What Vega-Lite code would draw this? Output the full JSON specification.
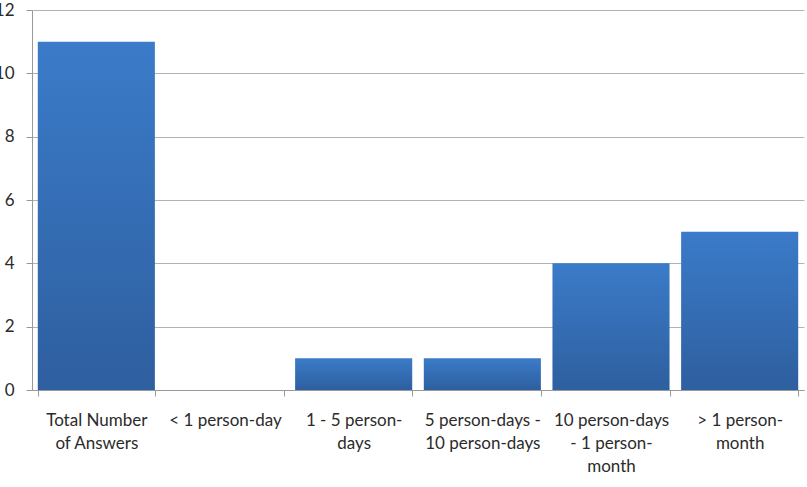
{
  "$schema": "https://vega.github.io/schema/vega-lite/v6.json",
  "width": 772,
  "height": 380,
  "autosize": {"type": "none"},
  "padding": {"left": 32, "top": 10, "right": 3, "bottom": 97},
  "background": "white",
  "config": {"view": {"stroke": null}},
  "data": {
    "values": [
      {"category": "Total Number|of Answers", "count": 11},
      {"category": "< 1 person-day", "count": 0},
      {"category": "1 - 5 person-|days", "count": 1},
      {"category": "5 person-days -|10 person-days", "count": 1},
      {"category": "10 person-days|- 1 person-|month", "count": 4},
      {"category": "> 1 person-|month", "count": 5}
    ]
  },
  "mark": {
    "type": "bar",
    "color": {
      "gradient": "linear",
      "x1": 0, "y1": 0, "x2": 0, "y2": 1,
      "stops": [
        {"offset": 0, "color": "#3b7bc9"},
        {"offset": 1, "color": "#2e5f9f"}
      ]
    }
  },
  "encoding": {
    "x": {
      "field": "category",
      "type": "nominal",
      "sort": null,
      "scale": {"paddingInner": 0.09, "paddingOuter": 0.045},
      "axis": {
        "title": null,
        "labelAngle": 0,
        "labelExpr": "split(datum.label, '|')",
        "labelFont": "Lato",
        "labelFontSize": 17,
        "labelColor": "#2b2b2b",
        "labelLineHeight": 23,
        "labelPadding": 16,
        "labelLimit": 0,
        "tickBand": "extent",
        "tickSize": 6,
        "tickColor": "#999999",
        "domainColor": "#999999",
        "grid": false
      }
    },
    "y": {
      "field": "count",
      "type": "quantitative",
      "scale": {"domain": [0, 12], "nice": false},
      "axis": {
        "title": null,
        "values": [0, 2, 4, 6, 8, 10, 12],
        "labelFont": "Lato",
        "labelFontSize": 17,
        "labelColor": "#2b2b2b",
        "labelPadding": 12,
        "tickSize": 6,
        "tickColor": "#999999",
        "domainColor": "#999999",
        "gridColor": "#b3b3b3",
        "grid": true
      }
    }
  }
}
